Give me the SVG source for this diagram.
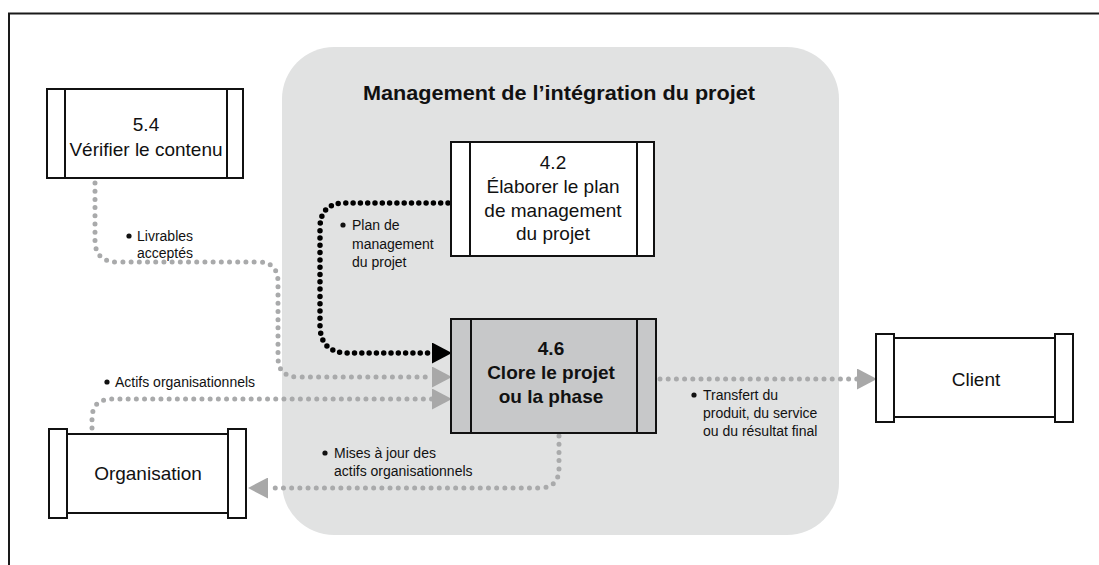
<svg xmlns="http://www.w3.org/2000/svg" width="1099" height="565" viewBox="0 0 1099 565">
<defs>
<style>
.box{fill:#fff;stroke:#111;stroke-width:2}
.box46{fill:#c7c8c9;stroke:#111;stroke-width:2}
.ln{stroke:#111;stroke-width:2;fill:none}
.t{font-family:"Liberation Sans",Arial,sans-serif;font-size:19px;fill:#111;text-anchor:middle}
.tb{font-family:"Liberation Sans",Arial,sans-serif;font-size:19px;font-weight:bold;fill:#111;text-anchor:middle}
.lbl{font-family:"Liberation Sans",Arial,sans-serif;font-size:14px;fill:#111}
.gdot{fill:none;stroke:#a9aaab;stroke-width:5;stroke-linecap:round;stroke-dasharray:0 8.2}
.bdot{fill:none;stroke:#000;stroke-width:5.5;stroke-linecap:round;stroke-dasharray:0 7.3}
</style>
<marker id="ag" markerUnits="userSpaceOnUse" markerWidth="20" markerHeight="21" viewBox="0 0 19 20" refX="0" refY="10" orient="auto">
<path d="M0,0 L19,10 L0,20 z" fill="#a8a8a8"/>
</marker>
<marker id="ab" markerUnits="userSpaceOnUse" markerWidth="20" markerHeight="21" viewBox="0 0 19 20" refX="0" refY="10" orient="auto">
<path d="M0,0 L19,10 L0,20 z" fill="#000"/>
</marker>
</defs>
<rect width="1099" height="565" fill="#fff"/>
<path d="M9,565 V13.5 H1099" fill="none" stroke="#1a1a1a" stroke-width="2"/>

<g id="panel">
<rect x="282" y="47" width="557" height="488" rx="52" ry="52" fill="#e1e2e2"/>
<text x="559" y="100" style="font-family:'Liberation Sans',Arial,sans-serif;font-size:21px;font-weight:bold;fill:#111" text-anchor="middle" textLength="392" lengthAdjust="spacingAndGlyphs">Management de l’intégration du projet</text>
</g>

<g id="connectors">
<path class="gdot" d="M95,183 V240 Q95,262 117,262 H258 Q278,262 278,282 V357 Q278,377 298,377 H432" marker-end="url(#ag)"/>
<path class="gdot" d="M92,428 V419 Q92,399 112,399 H432" marker-end="url(#ag)"/>
<path class="bdot" d="M448,203 H345 Q320,203 320,228 V325 Q320,353 348,353 H432" marker-end="url(#ab)"/>
<path class="gdot" d="M660,379 H857" marker-end="url(#ag)"/>
<path class="gdot" d="M559,436 V468 Q559,488 539,488 H268" marker-end="url(#ag)"/>
<g class="lbl">
<circle cx="129" cy="236" r="2.6" fill="#111"/>
<text x="137" y="241">Livrables</text>
<text x="137" y="258">acceptés</text>
<circle cx="343" cy="225" r="2.6" fill="#111"/>
<text x="352" y="230">Plan de</text>
<text x="352" y="248.5">management</text>
<text x="352" y="267">du projet</text>
<circle cx="107" cy="382" r="2.6" fill="#111"/>
<text x="115" y="387">Actifs organisationnels</text>
<circle cx="694" cy="395" r="2.6" fill="#111"/>
<text x="703" y="400">Transfert du</text>
<text x="703" y="418">produit, du service</text>
<text x="703" y="436">ou du résultat final</text>
<circle cx="325" cy="453" r="2.6" fill="#111"/>
<text x="334" y="458">Mises à jour des</text>
<text x="334" y="476">actifs organisationnels</text>
</g>
</g>

<g id="node-5-4">
<rect class="box" x="47" y="89" width="196" height="89"/>
<line class="ln" x1="65" y1="89" x2="65" y2="178"/>
<line class="ln" x1="227" y1="89" x2="227" y2="178"/>
<text class="t" x="146" y="131">5.4</text>
<text class="t" x="146" y="156">Vérifier le contenu</text>
</g>

<g id="node-4-2">
<rect class="box" x="451" y="142" width="203" height="114"/>
<line class="ln" x1="470" y1="142" x2="470" y2="256"/>
<line class="ln" x1="637" y1="142" x2="637" y2="256"/>
<text class="t" x="553" y="169">4.2</text>
<text class="t" x="553" y="193">Élaborer le plan</text>
<text class="t" x="553" y="217">de management</text>
<text class="t" x="553" y="240">du projet</text>
</g>

<g id="node-4-6">
<rect class="box46" x="451" y="319" width="205" height="114"/>
<line class="ln" x1="471" y1="319" x2="471" y2="433"/>
<line class="ln" x1="637" y1="319" x2="637" y2="433"/>
<text class="tb" x="551" y="355">4.6</text>
<text class="tb" x="551" y="379">Clore le projet</text>
<text class="tb" x="551" y="403">ou la phase</text>
</g>

<g id="node-client">
<rect class="box" x="894" y="338" width="161" height="79"/>
<rect class="box" x="876" y="334" width="18" height="88"/>
<rect class="box" x="1055" y="334" width="18" height="88"/>
<text class="t" x="976" y="386">Client</text>
</g>

<g id="node-organisation">
<rect class="box" x="67" y="434" width="161" height="79"/>
<rect class="box" x="49" y="429" width="18" height="89"/>
<rect class="box" x="228" y="429" width="18" height="89"/>
<text class="t" x="148" y="480">Organisation</text>
</g>
</svg>
